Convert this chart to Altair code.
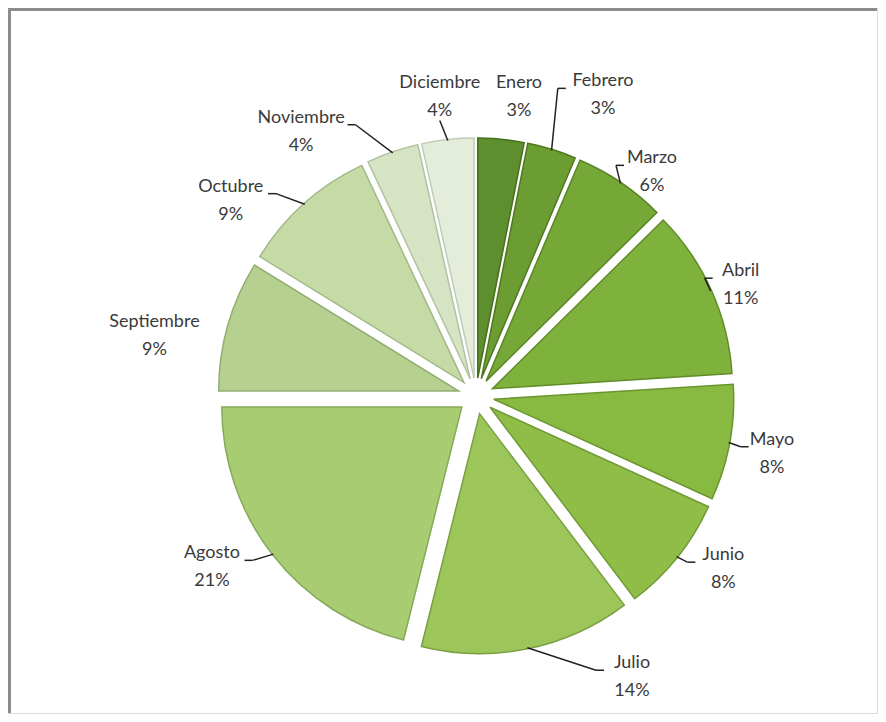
import altair as alt
import pandas as pd

months = ["Enero", "Febrero", "Marzo", "Abril", "Mayo", "Junio", "Julio",
          "Agosto", "Septiembre", "Octubre", "Noviembre", "Diciembre"]
values = [3.1, 3.3, 6.2, 11.4, 7.8, 7.9, 14.2, 21.1, 8.8, 9.2, 3.5, 3.5]
pct_labels = ["3%", "3%", "6%", "11%", "8%", "8%", "14%", "21%", "9%", "9%", "4%", "4%"]
fill_colors = ["#5e8f2e", "#6b9d32", "#76a838", "#7fb23c", "#88ba42", "#8fbd48",
               "#9cc659", "#a8cc72", "#b5d08f", "#c6daa6", "#d6e4c3", "#e4edd9"]
edge_colors = ["#46701c", "#50791f", "#5a8525", "#618c28", "#6a942e", "#729a35",
               "#7ba044", "#87a95a", "#93ad72", "#a3b889", "#b3c2a2", "#c2cbb8"]
leader = [False, True, True, True, True, True, True, True, False, True, True, True]
# data-label layout tweaks: angular spread (degrees) and radial gap (px)
label_spread = [2.6, 5.8, 4.0, 1.4, 0.6, -3.7, -17.5, 5.0, -5.2, -9.7, -14.6, -0.6]
label_gap = [0, 18, -23, -20, 0, -6, 15, 4, 5, 0, 2, -2]

df = pd.DataFrame({"idx": list(range(len(months))), "month": months, "value": values,
                   "pct": pct_labels, "leader": leader, "spread": label_spread,
                   "gap": label_gap})

W, H = 870, 706
CX, CY, R, E = 468, 388, 240, 18
FONT = "Lato"

base = alt.Chart(df).transform_window(
    cum="sum(value)", sort=[alt.SortField("idx")], frame=[None, 0]
).transform_joinaggregate(
    total="sum(value)"
).transform_calculate(
    t0="(datum.cum - datum.value) / datum.total * 2 * PI",
    t1="datum.cum / datum.total * 2 * PI",
).transform_calculate(
    mid="(datum.t0 + datum.t1) / 2"
).transform_calculate(
    la="datum.mid + datum.spread * PI / 180",
    ox=f"{CX} + {E} * sin(datum.mid)",
    oy=f"{CY} - {E} * cos(datum.mid)",
    hw="length(datum.month) * 4.6",
).transform_calculate(
    rl="285 + 3.5 * length(datum.month) * abs(sin(datum.la)) + 15 * abs(cos(datum.la)) + datum.gap",
    sg="sin(datum.la) >= 0 ? 1 : -1",
    side="abs(sin(datum.la)) > 0.25",
).transform_calculate(
    lx=f"{CX} + datum.rl * sin(datum.la)",
    ly=f"{CY} - datum.rl * cos(datum.la)",
).transform_calculate(
    l0x=f"{CX} + {R + E - 1} * sin(datum.mid)",
    l0y=f"{CY} - {R + E - 1} * cos(datum.mid)",
    tx="datum.side ? datum.lx - datum.sg * (datum.hw + 5) : datum.lx",
    ty="datum.side ? datum.ly - 7 : datum.ly + 24",
).transform_calculate(
    bx="datum.side ? datum.tx - datum.sg * 8 : datum.tx",
    by="datum.ty",
)

slices = base.mark_arc(radius=R, strokeWidth=1.5).encode(
    x=alt.X("ox:Q", scale=None),
    y=alt.Y("oy:Q", scale=None),
    theta=alt.Theta("t0:Q", scale=None),
    theta2=alt.Theta2("t1:Q"),
    color=alt.Color("month:N", scale=alt.Scale(domain=months, range=fill_colors), legend=None),
    stroke=alt.Stroke("month:N", scale=alt.Scale(domain=months, range=edge_colors), legend=None),
)

leader_base = base.transform_filter("datum.leader")
leaders = leader_base.mark_rule(color="#222222", strokeWidth=1.5).encode(
    x=alt.X("l0x:Q", scale=None),
    y=alt.Y("l0y:Q", scale=None),
    x2="bx:Q",
    y2="by:Q",
)
tails = leader_base.mark_rule(color="#222222", strokeWidth=1.5).encode(
    x=alt.X("bx:Q", scale=None),
    y=alt.Y("by:Q", scale=None),
    x2="tx:Q",
    y2="ty:Q",
)

name_text = base.mark_text(font=FONT, fontSize=18, color="#3a3a3a", dy=-14).encode(
    x=alt.X("lx:Q", scale=None),
    y=alt.Y("ly:Q", scale=None),
    text="month:N",
)
pct_text = base.mark_text(font=FONT, fontSize=18, color="#3a3a3a", dy=14).encode(
    x=alt.X("lx:Q", scale=None),
    y=alt.Y("ly:Q", scale=None),
    text="pct:N",
)

frame_left = alt.Chart(df).mark_rule(color="#8c8c8c", strokeWidth=3).encode(
    x=alt.value(1.5), y=alt.value(0), y2=alt.value(H))
frame_top = alt.Chart(df).mark_rule(color="#8c8c8c", strokeWidth=3).encode(
    x=alt.value(0), x2=alt.value(W), y=alt.value(1.5))
frame_right = alt.Chart(df).mark_rule(color="#dcdcdc", strokeWidth=1).encode(
    x=alt.value(W - 0.5), y=alt.value(0), y2=alt.value(H))
frame_bottom = alt.Chart(df).mark_rule(color="#dcdcdc", strokeWidth=1).encode(
    x=alt.value(0), x2=alt.value(W), y=alt.value(H - 0.5))

chart = alt.layer(slices, leaders, tails, name_text, pct_text,
                  frame_left, frame_top, frame_right, frame_bottom).properties(
    width=W, height=H, autosize=alt.AutoSizeParams(type="none"), padding=0,
    background="white",
).configure_view(strokeWidth=0)

chart.save("out.html", embed_options={"renderer": "svg", "actions": False})
